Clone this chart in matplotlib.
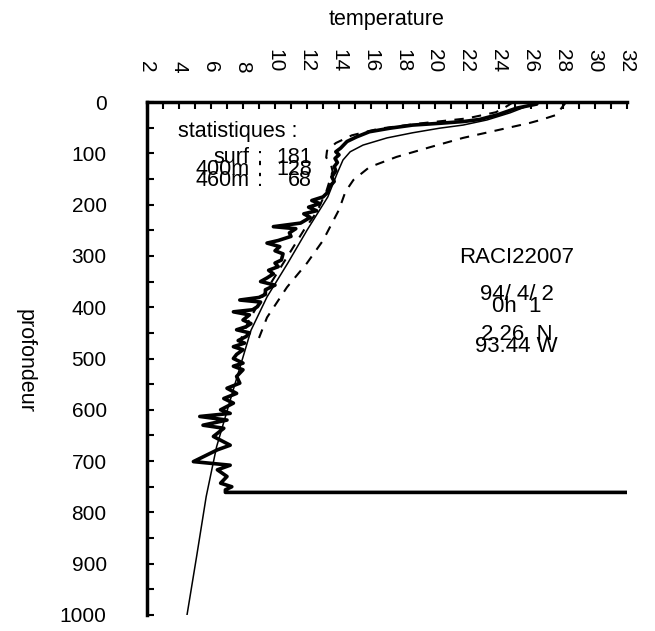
import numpy as np
import matplotlib

matplotlib.use("Agg")
import matplotlib.pyplot as plt
from matplotlib.ticker import MultipleLocator

plt.rcParams["font.family"] = ["Liberation Sans", "DejaVu Sans"]

# observed profile (thick, wiggly) -- last point is the bad value running off to 32
obs_temp = [26.4, 26.36, 25.1, 23.9, 22.8, 21.8, 20.3, 18.6, 17.2, 15.9, 15.1, 14.5, 14.1, 13.8,
            14.0, 13.75, 13.9, 13.7, 13.8, 13.55, 13.7, 13.4, 13.3, 13.0, 12.3, 12.8, 12.1, 12.6,
            11.8, 12.2, 11.6, 9.9, 11.3, 10.9, 11.0, 10.2, 9.5, 10.3, 10.0, 10.5, 10.4, 10.0,
            10.2, 9.6, 9.9, 9.5, 9.1, 10.0, 9.4, 9.4, 9.0, 7.8, 9.1, 8.9, 8.6, 7.4, 8.4, 8.0,
            8.5, 8.2, 7.6, 8.4, 8.2, 7.7, 8.1, 7.4, 8.0, 7.6, 7.4, 8.0, 7.4, 8.0, 7.6, 7.8, 7.0,
            7.6, 6.8, 7.4, 6.6, 7.2, 5.3, 7.0, 5.5, 6.8, 6.15, 7.2, 6.4, 4.9, 7.2, 6.4, 7.0, 6.6,
            7.3, 6.9, 6.9, 32.0]
obs_depth = [0, 4, 12, 25, 34, 38, 41.5, 45, 51, 58, 68, 77, 90, 97,
             103, 110, 118, 126, 134, 146, 155, 165, 176, 185, 192, 198, 205, 212,
             218, 225, 236, 243, 247, 255, 262, 270, 275, 282, 290, 296, 308, 314,
             321, 328, 335, 343, 350, 357, 366, 375, 381, 386, 390, 399, 405, 409, 415, 425,
             432, 438, 444, 450, 457, 465, 470, 477, 483, 492, 500, 509, 515, 522, 535, 548, 558,
             568, 578, 587, 600, 607, 613, 620, 630, 636, 652, 669, 678, 701, 708, 717, 730, 743,
             750, 756, 761, 761]

# climatology mean (thin)
clim_temp = [26.3, 26.1, 24.7, 23.25, 21.75, 20.3, 18.6, 17.0, 15.5, 14.7, 14.25, 13.9, 13.3,
             12.0, 10.8, 9.5, 8.5, 7.4, 6.35, 5.7, 5.1, 4.5]
clim_depth = [0, 4, 21, 35, 45, 51, 60, 70, 84, 97, 113, 138, 185,
              250, 314, 380, 445, 560, 672, 769, 886, 1000]

# envelope (dashed), right and left
hi_temp = [28.2, 27.9, 27.6, 26.6, 25.9, 23.9, 21.75, 19.7, 17.6, 15.9, 14.9, 14.4, 14.0,
           13.0, 12.0, 10.75, 9.5, 9.0]
hi_depth = [0, 12, 25, 35, 41, 55, 70, 88, 107, 127, 152, 175, 210,
            270, 314, 361, 420, 460]
lo_temp = [24.9, 24.4, 23.8, 22.0, 19.0, 16.5, 14.8, 13.8, 13.25, 13.2, 13.5, 13.6, 13.2,
           12.6, 11.8, 10.6, 9.3, 8.3, 7.9]
lo_depth = [0, 10, 20, 32, 42, 52, 65, 80, 95, 108, 122, 135, 175,
            215, 250, 310, 375, 430, 460]

stat_names = ["surf", "400m", "460m"]
stat_counts = [181, 128, 68]
station = ["RACI22007", "94/ 4/ 2", "0h  1", "2.26  N", "93.44 W"]

W, H = 655, 631
fig = plt.figure(figsize=(W / 100, H / 100), dpi=100)
ax = fig.add_axes([147 / W, 16 / H, 480 / W, 513 / H])

ax.plot(hi_temp, hi_depth, color="black", lw=1.5, dashes=(4.5, 4))
ax.plot(lo_temp, lo_depth, color="black", lw=1.5, dashes=(4.5, 4))
ax.plot(clim_temp, clim_depth, color="black", lw=1.1)
ax.plot(obs_temp, obs_depth, color="black", lw=2.6, clip_on=True)

ax.set_xlim(2, 32)
ax.set_ylim(1000, 0)
for s in ("bottom", "right"):
    ax.spines[s].set_visible(False)
for s in ("top", "left"):
    ax.spines[s].set_linewidth(2.5)

ax.xaxis.tick_top()
ax.xaxis.set_major_locator(MultipleLocator(2))
ax.xaxis.set_minor_locator(MultipleLocator(1))
ax.yaxis.set_major_locator(MultipleLocator(100))
ax.yaxis.set_minor_locator(MultipleLocator(50))
ax.tick_params(axis="x", which="both", direction="in", length=5, width=1.5,
               top=True, bottom=False, labeltop=True, labelbottom=False)
ax.tick_params(axis="x", which="major", pad=21.5, labelsize=15, labelrotation=-90)
ax.tick_params(axis="y", which="both", direction="in", length=5, width=1.5,
               left=True, right=False)
ax.tick_params(axis="y", which="major", pad=29, labelsize=15)

fig.text(387 / W, 1 - 19 / H, "temperature", ha="center", va="center", fontsize=15.5)
fig.text(25 / W, 1 - 361 / H, "profondeur", ha="center", va="center",
         rotation=-90, fontsize=15.5)

# statistics block
ax.text(3.94, 68, "statistiques :", fontsize=15.5, va="baseline")
for name, n, d in zip(stat_names, stat_counts, [119, 142, 164]):
    ax.text(8.4, d, name, fontsize=15.5, va="baseline", ha="right")
    ax.text(9.06, d, ":", fontsize=15.5, va="baseline", ha="center")
    ax.text(12.3, d, str(n), fontsize=15.5, va="baseline", ha="right")

for txt, d in zip(station, [314, 386, 409, 464, 487]):
    ax.text(25.1, d, txt, fontsize=16, va="baseline", ha="center")

fig.savefig("out.png", dpi=100)
